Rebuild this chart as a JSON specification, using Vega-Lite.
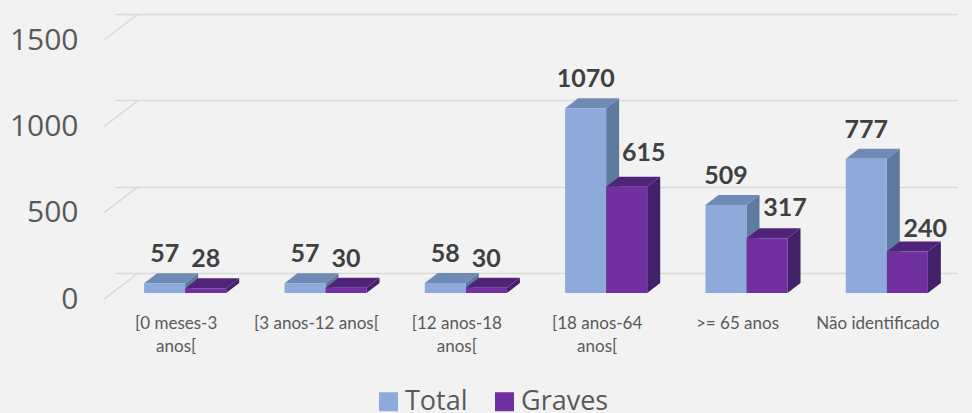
{"$schema":"https://vega.github.io/schema/vega-lite/v6.json","width":834,"height":259,"autosize":{"type":"none"},"padding":{"left":138,"top":14,"right":0,"bottom":140},"background":"#F2F2F2","config":{"view":{"stroke":null}},"datasets":{"bars":[{"category":"[0 meses-3 anos[","series":"Total","value":57},{"category":"[3 anos-12 anos[","series":"Total","value":57},{"category":"[12 anos-18 anos[","series":"Total","value":58},{"category":"[18 anos-64 anos[","series":"Total","value":1070},{"category":">= 65 anos","series":"Total","value":509},{"category":"Não identificado","series":"Total","value":777},{"category":"[0 meses-3 anos[","series":"Graves","value":28},{"category":"[3 anos-12 anos[","series":"Graves","value":30},{"category":"[12 anos-18 anos[","series":"Graves","value":30},{"category":"[18 anos-64 anos[","series":"Graves","value":615},{"category":">= 65 anos","series":"Graves","value":317},{"category":"Não identificado","series":"Graves","value":240}],"ticks":[{"tick":0},{"tick":500},{"tick":1000},{"tick":1500}]},"layer":[{"data":{"name":"ticks"},"mark":{"type":"point","filled":false,"stroke":"#D9D9D9","strokeWidth":1.5,"size":4,"shape":"M-47 0L-81 26","opacity":1},"encoding":{"x":{"datum":"[0 meses-3 anos["},"y":{"field":"tick","type":"quantitative"}}},{"data":{"name":"bars"},"encoding":{"x":{"field":"category","type":"nominal","title":null,"scale":{"domain":["[0 meses-3 anos[","[3 anos-12 anos[","[12 anos-18 anos[","[18 anos-64 anos[",">= 65 anos","Não identificado"],"range":[-23,819],"paddingInner":0.415,"paddingOuter":0.2075},"axis":{"domain":false,"ticks":false,"labelAngle":0,"labelAlign":"center","labelOffset":-9,"labelPadding":42,"labelFont":"Lato","labelFontSize":17,"labelColor":"#595959","labelLineHeight":23,"labelBaseline":"top","labelLimit":0,"labelOverlap":false,"labelExpr":"datum.value=='[0 meses-3 anos[' ? ['[0 meses-3','anos['] : datum.value=='[12 anos-18 anos[' ? ['[12 anos-18','anos['] : datum.value=='[18 anos-64 anos[' ? ['[18 anos-64','anos['] : datum.label"}},"xOffset":{"field":"series","type":"nominal","scale":{"domain":["Total","Graves"],"paddingInner":0,"paddingOuter":0}},"y":{"field":"value","type":"quantitative","title":null,"scale":{"domain":[0,1500],"range":[259,0],"nice":false},"axis":{"values":[0,500,1000,1500],"format":"d","domain":false,"ticks":false,"grid":true,"gridColor":"#D9D9D9","gridWidth":1.5,"labelPadding":60,"labelOffset":26,"labelFont":"Open Sans","labelFontSize":30,"labelColor":"#595959"}}},"layer":[{"mark":{"type":"point","filled":true,"opacity":1,"size":4,"yOffset":20},"encoding":{"shape":{"field":"value","type":"nominal","legend":null,"scale":{"domain":[28,30,57,58,240,317,509,615,777,1070],"range":["M20.5 0L33.5 -10L33.5 -5.2L20.5 4.8Z","M20.5 0L33.5 -10L33.5 -4.8L20.5 5.2Z","M20.5 0L33.5 -10L33.5 -0.2L20.5 9.8Z","M20.5 0L33.5 -10L33.5 0L20.5 10Z","M20.5 0L33.5 -10L33.5 31.4L20.5 41.4Z","M20.5 0L33.5 -10L33.5 44.7L20.5 54.7Z","M20.5 0L33.5 -10L33.5 77.9L20.5 87.9Z","M20.5 0L33.5 -10L33.5 96.2L20.5 106.2Z","M20.5 0L33.5 -10L33.5 124.2L20.5 134.2Z","M20.5 0L33.5 -10L33.5 174.8L20.5 184.8Z"]}},"fill":{"condition":{"test":"datum.series==='Total'","value":"#5E7A9F"},"value":"#43206A"}}},{"mark":{"type":"point","filled":true,"opacity":1,"size":4,"yOffset":20,"shape":"M-20.5 0L20.5 0L33.5 -10L-7.5 -10Z"},"encoding":{"fill":{"condition":{"test":"datum.series==='Total'","value":"#6F8BB5"},"value":"#4F2478"}}},{"mark":{"type":"bar","yOffset":20,"y2Offset":20},"encoding":{"y2":{"datum":0},"color":{"field":"series","type":"nominal","scale":{"domain":["Total","Graves"],"range":["#8EAADB","#7030A0"]},"legend":{"title":null,"orient":"none","legendX":237,"legendY":374,"direction":"horizontal","columns":2,"symbolType":"square","symbolSize":361,"symbolStrokeWidth":0,"labelFont":"Open Sans","labelFontSize":27,"labelColor":"#595959","labelOffset":3,"columnPadding":23,"padding":0}}}},{"transform":[{"filter":"!(datum.series==='Graves' && datum.value>200)"}],"mark":{"type":"text","font":"Lato","fontWeight":"bold","fontSize":25,"color":"#404040","baseline":"alphabetic","yOffset":-1},"encoding":{"text":{"field":"value","type":"quantitative"}}},{"transform":[{"filter":"datum.series==='Graves' && datum.value==615"}],"mark":{"type":"text","font":"Lato","fontWeight":"bold","fontSize":25,"color":"#404040","baseline":"alphabetic","yOffset":-6,"dx":17},"encoding":{"text":{"field":"value","type":"quantitative"}}},{"transform":[{"filter":"datum.series==='Graves' && datum.value==317"}],"mark":{"type":"text","font":"Lato","fontWeight":"bold","fontSize":25,"color":"#404040","baseline":"alphabetic","yOffset":-2,"dx":18},"encoding":{"text":{"field":"value","type":"quantitative"}}},{"transform":[{"filter":"datum.series==='Graves' && datum.value==240"}],"mark":{"type":"text","font":"Lato","fontWeight":"bold","fontSize":25,"color":"#404040","baseline":"alphabetic","yOffset":5,"dx":18},"encoding":{"text":{"field":"value","type":"quantitative"}}}]}]}
